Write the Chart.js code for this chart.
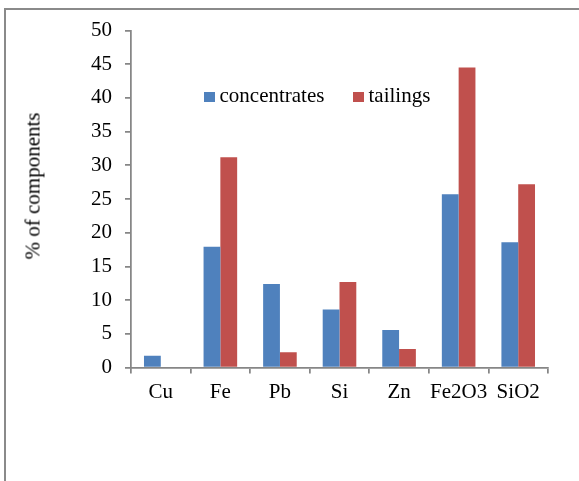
<!DOCTYPE html>
<html>
<head>
<meta charset="utf-8">
<script src="https://cdn.jsdelivr.net/npm/chart.js@4.4.1/dist/chart.umd.min.js"></script>
<style>
  html, body { margin: 0; padding: 0; background: #fff; }
  #wrap { position: relative; width: 579px; height: 481px; overflow: hidden; font-family: "Liberation Serif", "Times New Roman", serif; }
  #frame { position: absolute; left: 4px; top: 8px; width: 700px; height: 700px; border-left: 2px solid #8a8a8a; border-top: 2px solid #8a8a8a; }
  canvas { position: absolute; left: 0; top: 0; }
  .ytitle { position: absolute; left: 32.5px; top: 186px; transform: translate(-50%, -50%) rotate(-90deg); white-space: nowrap; font-size: 21px; line-height: 1; color: #000; }
  .legend { position: absolute; top: 84.5px; font-size: 21px; line-height: 21px; color: #000; white-space: nowrap; }
  .legend i { display: inline-block; width: 11px; height: 10px; margin-right: 4.5px; vertical-align: 0px; }
</style>
</head>
<body>
<div id="wrap">
  <div id="frame"></div>
  <canvas id="chart" width="579" height="481"></canvas>
  <div class="ytitle">% of components</div>
  <div class="legend" style="left:204px"><i style="background:#4F81BD"></i>concentrates</div>
  <div class="legend" style="left:353px"><i style="background:#C0504D"></i>tailings</div>
</div>
<script>
// =======================
// DATA
// =======================

const categories = ["Cu", "Fe", "Pb", "Si", "Zn", "Fe2O3", "SiO2"];
const concentrates = [1.75, 17.9, 12.4, 8.6, 5.55, 25.7, 18.6];
const tailings = [0, 31.2, 2.25, 12.7, 2.75, 44.5, 27.2];

const yMin = 0;
const yMax = 50;
const yStep = 5;

// =======================
// CHART
// =======================

const axisColor = "#868686";
const tickFont = { family: "Liberation Serif", size: 21 };

new Chart(document.getElementById("chart"), {
  type: "bar",
  data: {
    labels: categories,
    datasets: [
      { label: "concentrates", data: concentrates, backgroundColor: "#4F81BD" },
      { label: "tailings", data: tailings, backgroundColor: "#C0504D" }
    ]
  },
  options: {
    responsive: false,
    animation: false,
    devicePixelRatio: 1,
    layout: { padding: { top: 30.5, right: 31, bottom: 73.5, left: 0 } },
    datasets: {
      bar: { categoryPercentage: 0.564, barPercentage: 1.0 }
    },
    plugins: {
      legend: { display: false },
      tooltip: { enabled: false }
    },
    scales: {
      x: {
        grid: { drawOnChartArea: false, tickLength: 6, color: axisColor, lineWidth: 1.75, offset: true },
        border: { color: axisColor, width: 1.75 },
        ticks: { color: "#000", font: tickFont, padding: 6, autoSkip: false, maxRotation: 0 },
        afterFit: s => { s.height = 40; }
      },
      y: {
        min: yMin,
        max: yMax,
        grid: { drawOnChartArea: false, tickLength: 6, color: axisColor, lineWidth: 1.75 },
        border: { color: axisColor, width: 1.75 },
        ticks: { stepSize: yStep, color: "#000", font: tickFont, padding: 13 },
        afterFit: s => { s.width = 131; }
      }
    }
  }
});
</script>
</body>
</html>
